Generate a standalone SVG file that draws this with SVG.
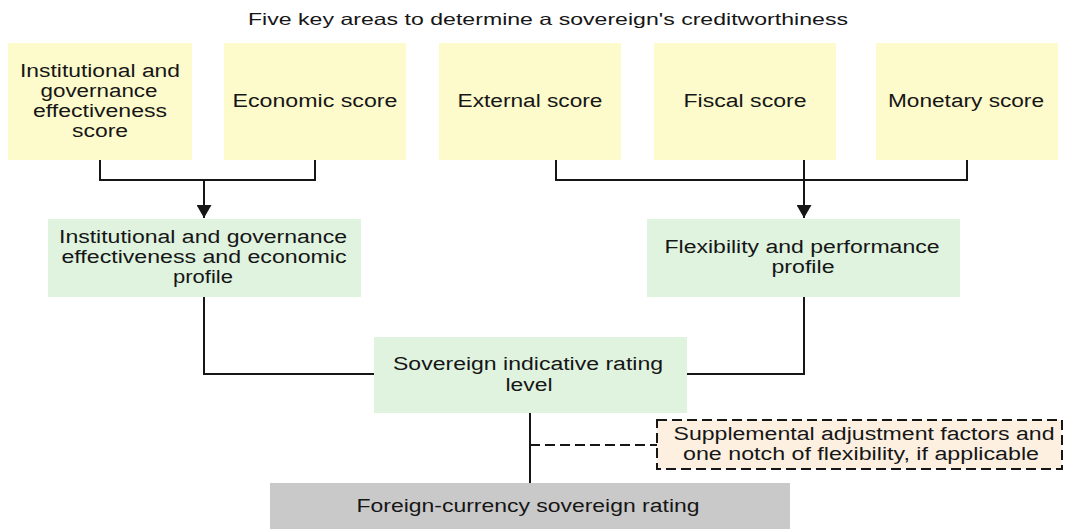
<svg xmlns="http://www.w3.org/2000/svg" width="1068" height="529" viewBox="0 0 1068 529">
<style>
text{font-family:"Liberation Sans",Arial,sans-serif;font-size:18px;fill:#161616;text-anchor:middle}
.title{font-size:16.5px}
.y{fill:#fdfbcc}
.g{fill:#dff3df}
.gr{fill:#c9c9c9}
.adj{fill:#fdf0e1;stroke:#161616;stroke-width:2;stroke-dasharray:10 5}
.c{fill:none;stroke:#161616;stroke-width:2}
.d{fill:none;stroke:#161616;stroke-width:2;stroke-dasharray:10 5}
</style>
<defs>
<marker id="ah" viewBox="0 0 13 15" refX="13" refY="7.5" markerWidth="13" markerHeight="15" markerUnits="userSpaceOnUse" orient="auto">
<path d="M0,0 L13,7.5 L0,15 z" fill="#161616"/>
</marker>
</defs>
<text class="title" x="548" y="25" textLength="600" lengthAdjust="spacingAndGlyphs">Five key areas to determine a sovereign's creditworthiness</text>
<g id="n-institutional">
<rect class="y" x="8" y="43" width="184" height="117"/>
<text x="100" y="77" textLength="160" lengthAdjust="spacingAndGlyphs">Institutional and</text>
<text x="99" y="97" textLength="117" lengthAdjust="spacingAndGlyphs">governance</text>
<text x="100" y="117" textLength="134" lengthAdjust="spacingAndGlyphs">effectiveness</text>
<text x="100" y="137" textLength="56" lengthAdjust="spacingAndGlyphs">score</text>
</g>
<g id="n-economic">
<rect class="y" x="224" y="43" width="182" height="117"/>
<text x="315" y="107" textLength="165" lengthAdjust="spacingAndGlyphs">Economic score</text>
</g>
<g id="n-external">
<rect class="y" x="439" y="43" width="182" height="117"/>
<text x="530" y="107" textLength="145" lengthAdjust="spacingAndGlyphs">External score</text>
</g>
<g id="n-fiscal">
<rect class="y" x="654" y="43" width="182" height="117"/>
<text x="745" y="107" textLength="123" lengthAdjust="spacingAndGlyphs">Fiscal score</text>
</g>
<g id="n-monetary">
<rect class="y" x="876" y="43" width="182" height="117"/>
<text x="966" y="107" textLength="156" lengthAdjust="spacingAndGlyphs">Monetary score</text>
</g>
<g id="n-profile-left">
<rect class="g" x="48" y="219" width="313" height="78"/>
<text x="203" y="243" textLength="288" lengthAdjust="spacingAndGlyphs">Institutional and governance</text>
<text x="204" y="263" textLength="285" lengthAdjust="spacingAndGlyphs">effectiveness and economic</text>
<text x="203" y="283" textLength="60" lengthAdjust="spacingAndGlyphs">profile</text>
</g>
<g id="n-profile-right">
<rect class="g" x="647" y="219" width="313" height="78"/>
<text x="802" y="253" textLength="275" lengthAdjust="spacingAndGlyphs">Flexibility and performance</text>
<text x="803" y="273" textLength="63" lengthAdjust="spacingAndGlyphs">profile</text>
</g>
<g id="n-indicative">
<rect class="g" x="374" y="337" width="313" height="76"/>
<text x="528" y="370" textLength="270" lengthAdjust="spacingAndGlyphs">Sovereign indicative rating</text>
<text x="529" y="391" textLength="47" lengthAdjust="spacingAndGlyphs">level</text>
</g>
<g id="n-adjustment">
<rect class="adj" x="657" y="420" width="405" height="49"/>
<text x="864" y="440" textLength="381" lengthAdjust="spacingAndGlyphs">Supplemental adjustment factors and</text>
<text x="861" y="460" textLength="356" lengthAdjust="spacingAndGlyphs">one notch of flexibility, if applicable</text>
</g>
<g id="n-foreign">
<rect class="gr" x="270" y="483" width="520" height="50"/>
<text x="528" y="512" textLength="343" lengthAdjust="spacingAndGlyphs">Foreign-currency sovereign rating</text>
</g>
<g id="connectors">
<path class="c" d="M100,160 V180 H315 V160"/>
<path class="c" d="M204,180 V218" marker-end="url(#ah)"/>
<path class="c" d="M556,160 V180 H967 V160"/>
<path class="c" d="M804,160 V218" marker-end="url(#ah)"/>
<path class="c" d="M204,297 V374 H374"/>
<path class="c" d="M804,297 V374 H687"/>
<path class="c" d="M530,413 V483"/>
<path class="d" d="M530,445 H657"/>
</g>
</svg>
